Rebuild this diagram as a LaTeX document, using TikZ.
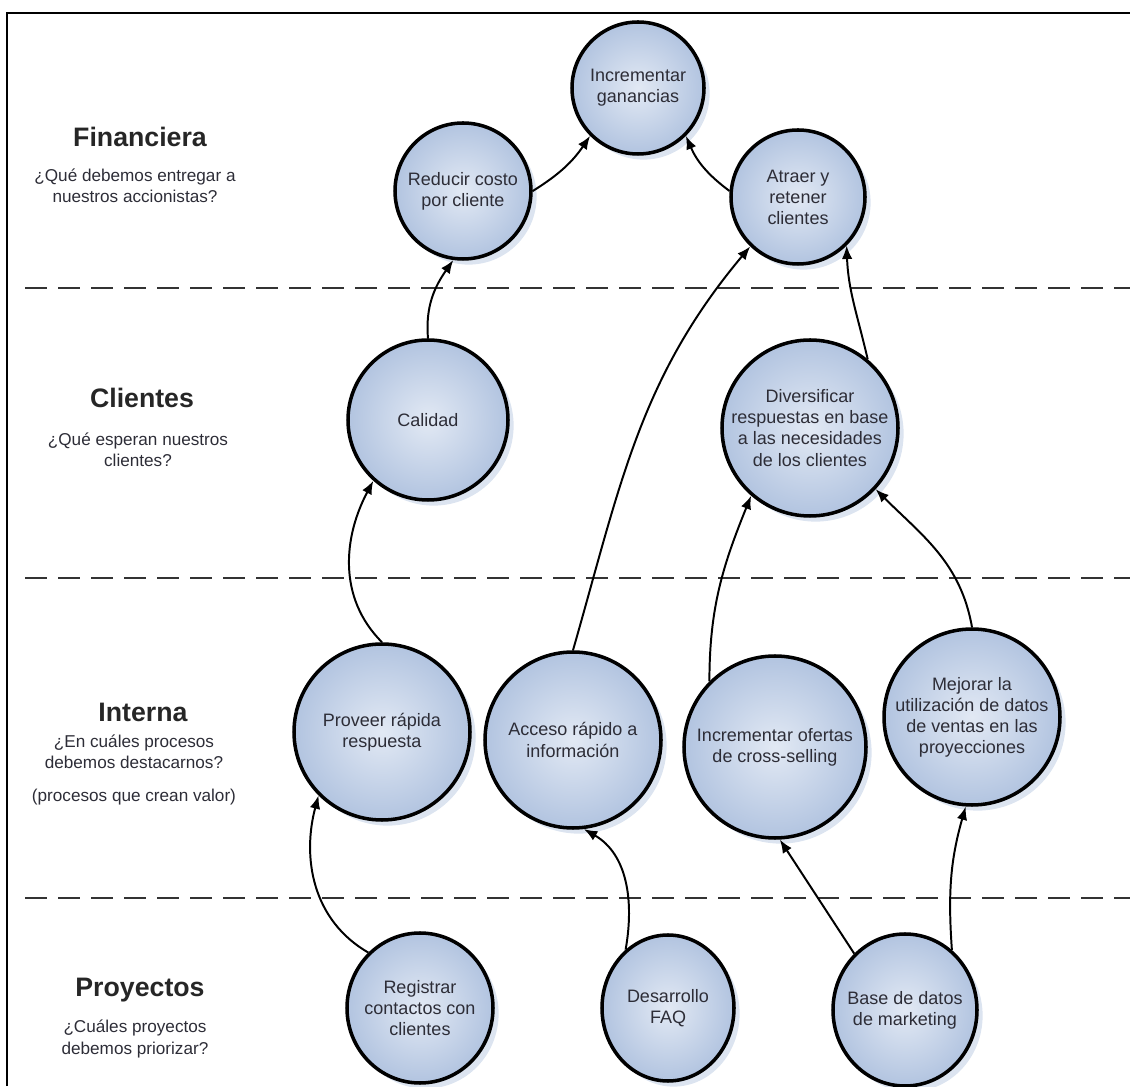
\documentclass[tikz,border=0pt]{standalone}
\usepackage{fontspec}
\setmainfont{Liberation Sans}
\usepackage{tikz}
\usetikzlibrary{arrows.meta, shapes.geometric, shadows}
\tikzset{>={Latex[length=9.5pt, width=7.5pt]}}
\definecolor{myblue1}{RGB}{226, 233, 244}
\definecolor{myblue2}{RGB}{178, 196, 224}
\definecolor{myshadow}{RGB}{220, 228, 240}
\definecolor{mygray3}{RGB}{45, 45, 55}

\begin{document}
\begin{tikzpicture}[
  goal/.style = {circle, draw, line width = 2.5pt, inner sep = -0.3cm, inner color = myblue1, outer color = myblue2,
    drop shadow = {shadow xshift = 4pt, shadow yshift = -4pt, fill = myshadow, opacity = 1},
    align = center, text = mygray3, font = \fontsize{12.8}{15}\selectfont},
  project/.style = {goal, ellipse, inner sep = -0.4cm},
  title/.style = {font = \fontsize{19}{22}\selectfont\bfseries, text = black!85},
  question/.style = {align = center, text = mygray3, font = \fontsize{12.2}{15.2}\selectfont},
  link/.style = {->, line width = 1.4pt},
  divider/.style = {line width = 2pt, black!80, dash pattern = on 0.55cm off 0.275cm}
]
\useasboundingbox (0, 0) rectangle (28.25, 27.15);
\draw[line width = 2.1pt] (0.175, 0) -- (0.175, 26.825) -- (28.25, 26.825);
\foreach \y in {19.95, 12.7, 4.7}
  \draw[divider] (0.625, \y) -- (28.25, \y);

\node[title] (fin) at (3.5, 23.725) {Financiera};
\node[question] (finq) at (3.375, 22.5) {¿Qué debemos entregar a\\nuestros accionistas?};
\node[title] (cli) at (3.55, 17.2) {Clientes};
\node[question] (cliq) at (3.45, 15.9) {¿Qué esperan nuestros\\clientes?};
\node[title] (int) at (3.575, 9.35) {Interna};
\node[question] (intq) at (3.35, 8.35) {¿En cuáles procesos\\debemos destacarnos?};
\node[question] (intv) at (3.35, 7.225) {(procesos que crean valor)};
\node[title] (pro) at (3.5, 2.4) {Proyectos};
\node[question] (proq) at (3.375, 1.175) {¿Cuáles proyectos\\debemos priorizar?};

\node[goal, minimum size = 3.3cm] (inc) at (15.95, 24.95) {Incrementar\\ganancias};
\node[goal, minimum size = 3.4cm] (red) at (11.575, 22.375) {Reducir costo\\por cliente};
\node[goal, minimum size = 3.35cm] (atr) at (19.95, 22.225) {Atraer y\\retener\\clientes};
\node[goal, minimum size = 4cm] (cal) at (10.7, 16.65) {Calidad};
\node[goal, minimum size = 4.4cm] (div) at (20.25, 16.45) {Diversificar\\respuestas en base\\a las necesidades\\de los clientes};
\node[goal, minimum size = 4.4cm] (prov) at (9.55, 8.85) {Proveer rápida\\respuesta};
\node[goal, minimum size = 4.4cm] (acc) at (14.325, 8.65) {Acceso rápido a\\información};
\node[goal, minimum size = 4.55cm] (ofe) at (19.375, 8.475) {Incrementar ofertas\\de cross-selling};
\node[goal, minimum size = 4.4cm] (mej) at (24.3, 9.225) {Mejorar la\\utilización de datos\\de ventas en las\\proyecciones};
\node[project, minimum width = 3.65cm, minimum height = 3.75cm] (reg) at (10.5, 1.95) {Registrar\\contactos con\\clientes};
\node[project, minimum width = 3.3cm, minimum height = 3.65cm] (des) at (16.7, 1.95) {Desarrollo\\FAQ};
\node[project, minimum width = 3.6cm, minimum height = 3.8cm] (base) at (22.625, 1.9) {Base de datos\\de marketing};

\draw[link] (red.east) to[bend right = 12] (inc.225);
\draw[link] (atr.175) to[bend left = 15] (inc.-45);
\draw[link] (cal.north) to[out = 95, in = -125] (red.-98);
\draw[link] (acc.north) to[out = 74, in = 230] (atr.226);
\draw[link] (div.50) to[out = 103, in = -88] (atr.-45);
\draw[link] (prov.north) to[out = 135, in = -118] (cal.228);
\draw[link] (reg.133) to[out = 150, in = -105] (prov.225);
\draw[link] (des.126) to[out = 80, in = -30] (acc.-83);
\draw[link] (base.132) -- (ofe.-87);
\draw[link] (base.52) to[out = 94, in = -106] (mej.-94);
\draw[link] (ofe.135) to[out = 90, in = -112] (div.229);
\draw[link] (mej.north) to[out = 100, in = -45] (div.-43);
\end{tikzpicture}
\end{document}
